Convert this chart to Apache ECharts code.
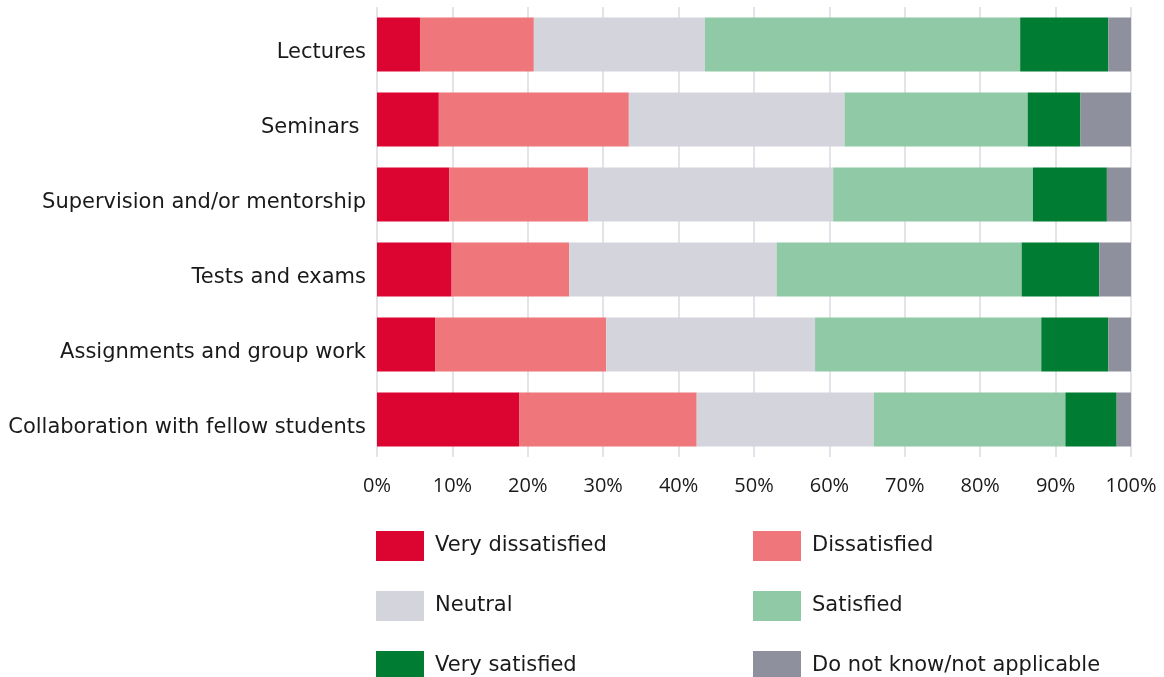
<!DOCTYPE html>
<html>
<head>
<meta charset="utf-8">
<script src="https://cdn.jsdelivr.net/npm/echarts@6/dist/echarts.min.js"></script>
<style>
  html, body { margin: 0; padding: 0; background: #ffffff; }
  #chart { width: 1164px; height: 677px; }
</style>
</head>
<body>
<div id="chart"></div>
<script>
// Teaching components rated by students, share of answers in percent
const categories = [
  'Lectures',
  'Seminars ',
  'Supervision and/or mentorship',
  'Tests and exams',
  'Assignments and group work',
  'Collaboration with fellow students'
];

const veryDissatisfied = [5.7, 8.2, 9.6, 9.9, 7.7, 18.9];
const dissatisfied     = [15.1, 25.2, 18.4, 15.6, 22.7, 23.5];
const neutral          = [22.7, 28.6, 32.5, 27.5, 27.7, 23.5];
const satisfied        = [41.8, 24.3, 26.5, 32.5, 30.0, 25.4];
const verySatisfied    = [11.7, 7.0, 9.8, 10.3, 8.9, 6.8];
const doNotKnow        = [3.0, 6.7, 3.2, 4.2, 3.0, 1.9];

const seriesNames = [
  'Very dissatisfied', 'Dissatisfied', 'Neutral',
  'Satisfied', 'Very satisfied', 'Do not know/not applicable'
];
const seriesValues = [veryDissatisfied, dissatisfied, neutral, satisfied, verySatisfied, doNotKnow];
const seriesColors = ['#dc0532', '#ef777b', '#d4d4dd', '#8fc9a5', '#007c33', '#8f909e'];

const TEXT_FONT = '"DejaVu Sans", "Open Sans", sans-serif';
const NUM_FONT = '"Open Sans", "Noto Sans", sans-serif';

const chart = echarts.init(document.getElementById('chart'), null, { renderer: 'canvas' });

// Legend laid out as a two-column grid: one legend component per entry
const legendCols = [376, 753];
const legendRows = [531, 591, 651];
const legends = seriesNames.map((name, i) => ({
  left: legendCols[i % 2],
  top: legendRows[Math.floor(i / 2)],
  padding: 0,
  icon: 'rect',
  itemWidth: 48,
  itemHeight: 30,
  selectedMode: false,
  data: [name],
  textStyle: { fontFamily: TEXT_FONT, fontSize: 21, color: '#1a1a1a', padding: [0, 0, 0, 6] }
}));

chart.setOption({
  animation: false,
  backgroundColor: '#ffffff',
  color: seriesColors,
  grid: { left: 377, right: 33, top: 7, bottom: 220, containLabel: false },
  legend: legends,
  xAxis: {
    type: 'value',
    min: 0,
    max: 100,
    interval: 10,
    axisLine: { show: false },
    axisTick: { show: false },
    splitLine: { show: true, lineStyle: { color: '#dadae2', width: 1.5 } },
    axisLabel: {
      formatter: '{value}%',
      fontFamily: NUM_FONT,
      fontSize: 20,
      color: '#1a1a1a',
      margin: 19
    }
  },
  yAxis: {
    type: 'category',
    data: categories,
    inverse: true,
    axisLine: { show: false },
    axisTick: { show: false },
    splitLine: { show: false },
    axisLabel: {
      margin: 11,
      formatter: (v) => '{cat|' + v + '}',
      rich: {
        cat: {
          fontFamily: TEXT_FONT,
          fontSize: 21,
          color: '#1a1a1a',
          padding: [16, 0, 0, 0]
        }
      }
    }
  },
  series: seriesNames.map((name, i) => ({
    name: name,
    type: 'bar',
    stack: 'total',
    barCategoryGap: '28%',
    itemStyle: { color: seriesColors[i] },
    emphasis: { disabled: true },
    data: seriesValues[i]
  }))
});
</script>
</body>
</html>
